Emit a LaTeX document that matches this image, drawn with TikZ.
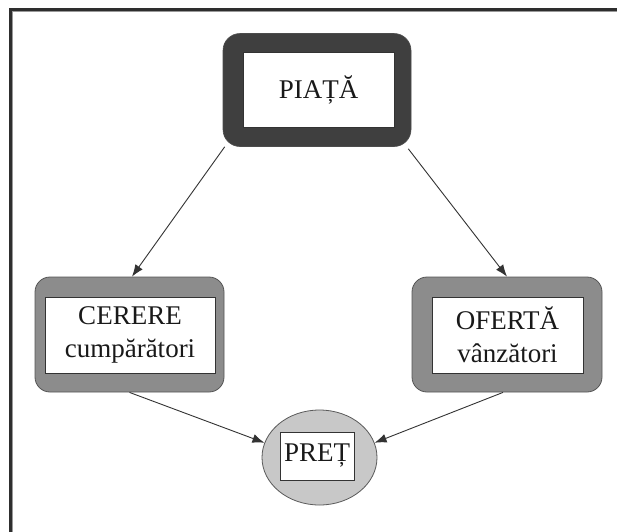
\documentclass[tikz,border=0pt]{standalone}
\usepackage{fontspec}
\setmainfont{Liberation Serif}
\usetikzlibrary{shapes.geometric,arrows.meta}
\definecolor{framedark}{HTML}{2E2E2E}
\definecolor{piatafill}{HTML}{3F3F3F}
\definecolor{sidefill}{HTML}{8C8C8C}
\definecolor{sideline}{HTML}{555555}
\definecolor{pretfill}{HTML}{C8C8C8}
\definecolor{arrowgray}{HTML}{333333}
\tikzset{
  lbl/.style={font=\fontsize{27}{33}\selectfont, align=center, text=black!90},
  innerbox/.style={draw=black!80, line width=0.8pt, fill=white, inner sep=0pt, lbl},
  piataframe/.style={draw=black!70, line width=0.6pt, fill=piatafill, rounded corners=17pt, inner sep=0pt},
  sideframe/.style={draw=sideline, line width=0.8pt, fill=sidefill, rounded corners=15pt, inner sep=0pt},
  pretshape/.style={ellipse, draw=black!65, line width=0.8pt, fill=pretfill, inner sep=0pt},
  link/.style={draw=arrowgray, line width=0.9pt, -{Latex[length=12pt,width=9pt]}},
}
\begin{document}
\begin{tikzpicture}[x=1pt, y=-1pt]
  \useasboundingbox (0,0) rectangle (617,531);
  \fill[white] (-6,-6) rectangle (623,537);

  % page frame: left and top edges
  \draw[black!40, line width=1pt] (12.5,540) -- (12.5,11.5) -- (625,11.5);
  \draw[framedark, line width=2.2pt] (10.5,540) -- (10.5,9.5) -- (625,9.5);

  % PIATĂ
  \node[piataframe, minimum width=188pt, minimum height=113pt] (piata) at (317,90) {};
  \node[innerbox, minimum width=151pt, minimum height=75pt] (piatain) at (318.5,89.5) {PIAȚĂ};

  % CERERE
  \node[sideframe, minimum width=189pt, minimum height=115pt] (cerere) at (129.5,334.5) {};
  \node[innerbox, minimum width=170pt, minimum height=76pt] (cererein) at (130,335) {CERERE\\cumpărători};

  % OFERTĂ
  \node[sideframe, minimum width=190pt, minimum height=115pt] (oferta) at (507,334.5) {};
  \node[innerbox, minimum width=151pt, minimum height=76pt] (ofertain) at (507.5,335) {OFERTĂ\\vânzători};

  % PREȚ
  \node[pretshape, minimum width=115pt, minimum height=95pt] (pret) at (319.5,457.5) {};
  \node[innerbox, minimum width=74pt, minimum height=48pt] (pretin) at (317,456) {PREȚ};

  % connectors
  \draw[link] ([xshift=2pt]piata.south west) -- ([xshift=2.5pt]cerere.north);
  \draw[link] ([xshift=-3pt,yshift=-2pt]piata.south east) -- (oferta.north);
  \draw[link] (cerere.south) -- (pret.165);
  \draw[link] ([xshift=-4pt]oferta.south) -- (pret.15);
\end{tikzpicture}
\end{document}
